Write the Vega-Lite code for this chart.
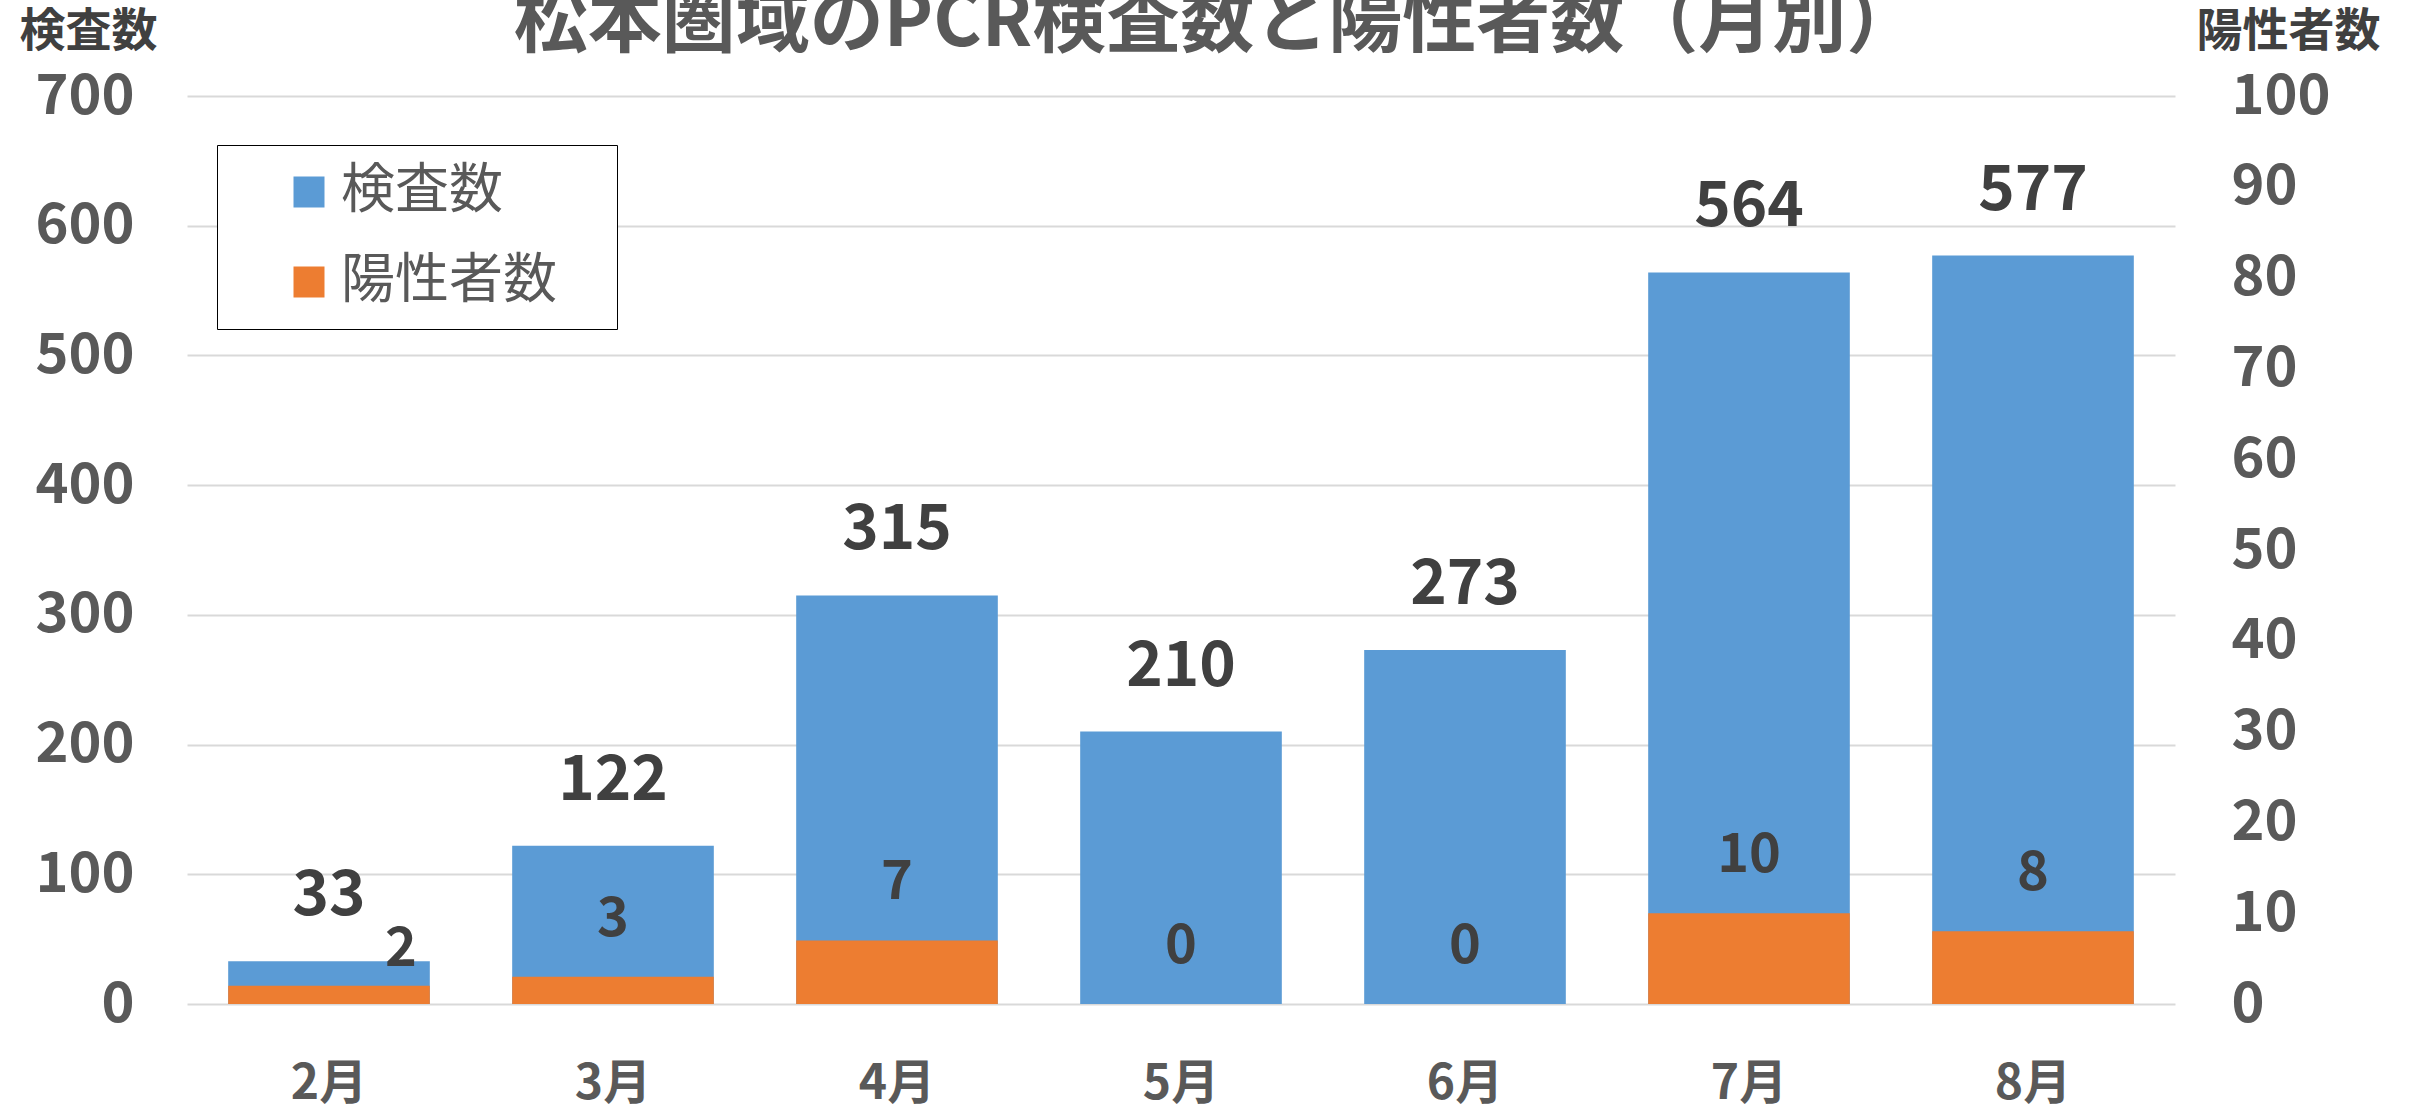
{
  "$schema": "https://vega.github.io/schema/vega-lite/v6.json",
  "width": 1988,
  "height": 908,
  "autosize": {"type": "none"},
  "padding": {"left": 187, "top": 96, "right": 242, "bottom": 106},
  "background": "white",
  "title": {
    "text": "松本圏域のPCR検査数と陽性者数（月別）",
    "font": "Noto Sans CJK JP",
    "fontSize": 74,
    "fontWeight": "bold",
    "color": "#595959",
    "anchor": "middle",
    "frame": "group",
    "offset": -112,
    "dx": 36,
    "baseline": "alphabetic"
  },
  "config": {
    "view": {"stroke": null},
    "font": "Noto Sans CJK JP",
    "text": {"font": "Noto Sans CJK JP"}
  },
  "data": {
    "values": [
      {"month": "2月", "tests": 33, "positives": 2},
      {"month": "3月", "tests": 122, "positives": 3},
      {"month": "4月", "tests": 315, "positives": 7},
      {"month": "5月", "tests": 210, "positives": 0},
      {"month": "6月", "tests": 273, "positives": 0},
      {"month": "7月", "tests": 564, "positives": 10},
      {"month": "8月", "tests": 577, "positives": 8}
    ]
  },
  "encoding": {
    "x": {
      "field": "month",
      "type": "nominal",
      "sort": null,
      "scale": {"paddingInner": 0.29, "paddingOuter": 0.145},
      "axis": {
        "title": null,
        "domain": false,
        "ticks": false,
        "grid": false,
        "labelAngle": 0,
        "labelFont": "Noto Sans CJK JP",
        "labelFontSize": 48,
        "labelFontWeight": "bold",
        "labelColor": "#595959",
        "labelBaseline": "top",
        "labelPadding": 56
      }
    }
  },
  "layer": [
    {
      "layer": [
        {
          "mark": {"type": "bar"},
          "encoding": {
            "y": {
              "field": "tests",
              "type": "quantitative",
              "scale": {"domain": [0, 700], "nice": false},
              "axis": {
                "orient": "left",
                "title": "検査数",
                "values": [0, 100, 200, 300, 400, 500, 600, 700],
                "grid": true,
                "gridColor": "#d9d9d9",
                "gridWidth": 2,
                "domain": false,
                "ticks": false,
                "labelPadding": 53,
                "labelFont": "Noto Sans CJK JP",
                "labelFontSize": 56,
                "labelFontWeight": "bold",
                "labelColor": "#595959",
                "titleFont": "Noto Sans CJK JP",
                "titleFontSize": 46,
                "titleFontWeight": "bold",
                "titleColor": "#404040",
                "titleAngle": 0,
                "titleX": -99,
                "titleY": -65,
                "titleAlign": "center",
                "titleBaseline": "middle"
              }
            },
            "color": {
              "datum": "検査数",
              "type": "nominal",
              "scale": {"domain": ["検査数", "陽性者数"], "range": ["#5B9BD5", "#ED7D31"]},
              "legend": {
                "title": null,
                "orient": "none",
                "legendX": 30,
                "legendY": 49,
                "padding": 20,
                "strokeColor": "#000000",
                "fillColor": "#ffffff",
                "symbolType": "square",
                "symbolSize": 961,
                "symbolStrokeWidth": 0,
                "symbolOffset": 45,
                "labelOffset": 5,
                "labelLimit": 600,
                "labelFont": "Noto Sans CJK JP",
                "labelFontSize": 54,
                "labelColor": "#595959",
                "rowPadding": 36,
                "labelExpr": "datum.label + '\u2800'"
              }
            }
          }
        },
        {
          "mark": {"type": "text", "baseline": "middle", "dy": -65, "fontSize": 62, "fontWeight": "bold", "color": "#404040"},
          "encoding": {
            "y": {"field": "tests", "type": "quantitative"},
            "text": {"field": "tests", "type": "quantitative"}
          }
        }
      ]
    },
    {
      "layer": [
        {
          "mark": {"type": "bar"},
          "encoding": {
            "y": {
              "field": "positives",
              "type": "quantitative",
              "scale": {"domain": [0, 100], "nice": false},
              "axis": {
                "orient": "right",
                "title": "陽性者数",
                "values": [0, 10, 20, 30, 40, 50, 60, 70, 80, 90, 100],
                "grid": false,
                "domain": false,
                "ticks": false,
                "labelPadding": 56,
                "labelAlign": "left",
                "labelFont": "Noto Sans CJK JP",
                "labelFontSize": 56,
                "labelFontWeight": "bold",
                "labelColor": "#595959",
                "titleFont": "Noto Sans CJK JP",
                "titleFontSize": 46,
                "titleFontWeight": "bold",
                "titleColor": "#404040",
                "titleAngle": 0,
                "titleX": 113,
                "titleY": -65,
                "titleAlign": "center",
                "titleBaseline": "middle"
              }
            },
            "color": {"datum": "陽性者数", "type": "nominal"}
          }
        },
        {
          "transform": [{"filter": "datum.month !== '2月'"}],
          "mark": {"type": "text", "baseline": "middle", "dy": -57, "fontSize": 54, "fontWeight": "bold", "color": "#404040"},
          "encoding": {
            "y": {"field": "positives", "type": "quantitative"},
            "text": {"field": "positives", "type": "quantitative"}
          }
        },
        {
          "transform": [{"filter": "datum.month === '2月'"}],
          "mark": {"type": "text", "baseline": "middle", "dx": 72, "dy": -36, "fontSize": 54, "fontWeight": "bold", "color": "#404040"},
          "encoding": {
            "y": {"field": "positives", "type": "quantitative"},
            "text": {"field": "positives", "type": "quantitative"}
          }
        }
      ]
    }
  ],
  "resolve": {"scale": {"y": "independent"}}
}
